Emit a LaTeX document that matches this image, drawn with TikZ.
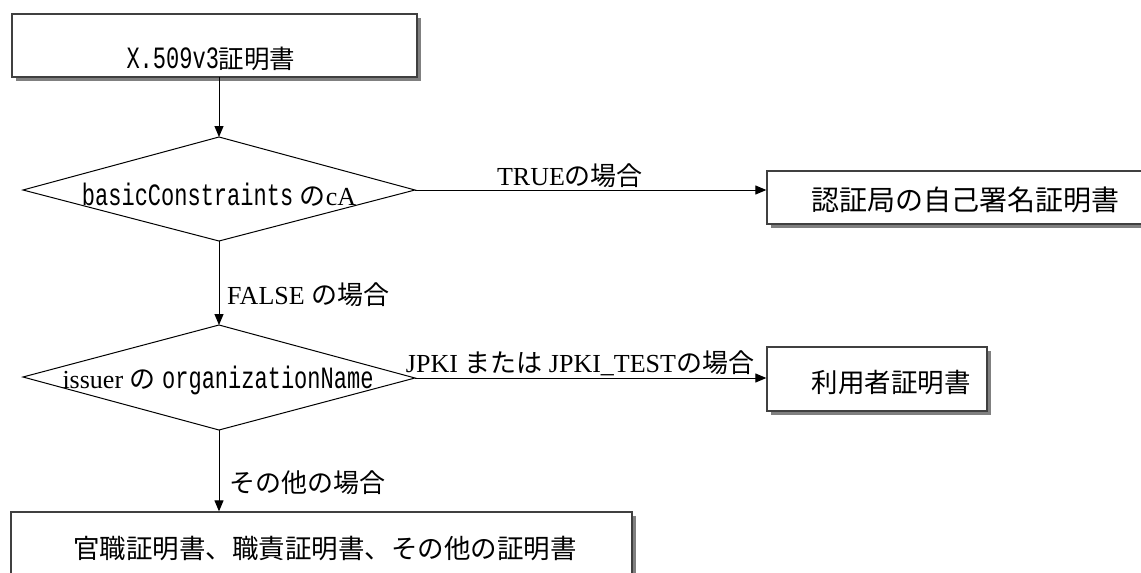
\documentclass[tikz,border=0pt]{standalone}
\usepackage{fontspec}
\setmainfont{Liberation Serif}
\newfontfamily\jp{Noto Sans CJK JP}
\newfontfamily\gmfont[FakeStretch=0.71]{Liberation Mono}
\newcommand{\gm}{\gmfont\fontsize{31}{34}\selectfont}
\usetikzlibrary{arrows.meta,shadows}
\begin{document}
\begin{tikzpicture}[x=1pt,y=-1pt,
  box/.style={draw=black!75,line width=1.3pt,fill=white,inner sep=0pt,
    drop shadow={shadow xshift=4pt,shadow yshift=-4pt,fill=black!50,opacity=1}},
  dia/.style={draw=black,line width=1pt,fill=white},
  arr/.style={draw=black,line width=1pt,-{Triangle[length=11pt,width=9pt]}},
  txt/.style={inner sep=0pt,font=\fontsize{26}{30}\selectfont},
  lbl/.style={inner sep=0pt,font=\fontsize{26}{30}\selectfont}]
\clip (0,0) rectangle (1141,573);
\fill[white] (0,0) rectangle (1141,573);
% boxes
\node[box,minimum width=405pt,minimum height=63pt] (box0) at (214.5,45.5) {};
\node[txt,font=\fontsize{25.5}{30}\selectfont] (t0) at (211,59) {{\gm X.509v3}{\jp 証明書}};
\node[box,minimum width=420pt,minimum height=53pt] (box2) at (977,197.5) {};
\node[txt,font=\fontsize{28}{32}\selectfont] (t2) at (965,200) {\jp 認証局の自己署名証明書};
\node[box,minimum width=220pt,minimum height=64pt] (box3) at (877,379) {};
\node[txt,font=\fontsize{26.5}{30}\selectfont] (t3) at (891,382) {\jp 利用者証明書};
\node[box,minimum width=621pt,minimum height=120pt] (box4) at (321.5,572) {};
\node[txt,font=\fontsize{26.5}{30}\selectfont] (t4) at (325,548) {\jp 官職証明書、職責証明書、その他の証明書};
% diamonds
\coordinate (d1t) at (219,137);
\coordinate (d1l) at (23,190);
\coordinate (d1r) at (415,190);
\coordinate (d1b) at (219,241);
\draw[dia] (d1t) -- (d1r) -- (d1b) -- (d1l) -- cycle;
\node[txt] (dt1) at (219,195) {{\gm basicConstraints} {\jp の}cA};
\coordinate (d2t) at (219,325);
\coordinate (d2l) at (23,377);
\coordinate (d2r) at (415,378);
\coordinate (d2b) at (219,430);
\draw[dia] (d2t) -- (d2r) -- (d2b) -- (d2l) -- cycle;
\node[txt] (dt2) at (218,380) {issuer {\jp の} {\gm organizationName}};
% connector end points
\coordinate (b0s) at (219,77);
\coordinate (b2w) at (box2.west |- d1r);
\coordinate (b3w) at (box3.west |- d2r);
\coordinate (b4n) at (d2b |- box4.north);
% connectors
\draw[arr] (b0s) -- (d1t);
\draw[arr] (d1r) -- (b2w);
\draw[arr] (d1b) -- (d2t);
\draw[arr] (d2r) -- (b3w);
\draw[arr] (d2b) -- (b4n);
% labels
\node[lbl] (l1) at (570,176) {TRUE{\jp の場合}};
\node[lbl,anchor=west] (l2) at (227,295) {FALSE {\jp の場合}};
\node[lbl] (l3) at (580,363) {JPKI {\jp または} JPKI\_TEST{\jp の場合}};
\node[lbl,anchor=west] (l4) at (229,483) {\jp その他の場合};
\end{tikzpicture}
\end{document}
